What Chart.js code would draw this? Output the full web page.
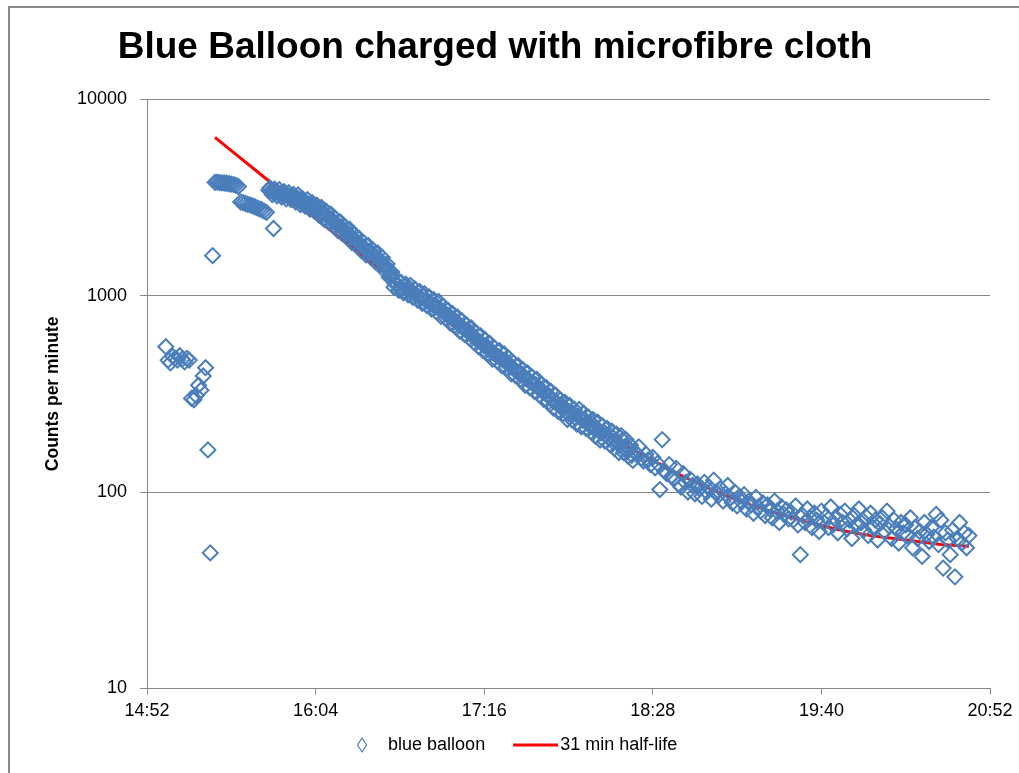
<!DOCTYPE html>
<html>
<head>
<meta charset="utf-8">
<title>Blue Balloon charged with microfibre cloth</title>
<script src="https://cdn.jsdelivr.net/npm/chart.js@4.4.0/dist/chart.umd.min.js"></script>
<style>
  html, body { margin: 0; padding: 0; background: #fff; overflow: hidden; }
  #wrap { position: relative; width: 1019px; height: 773px; overflow: hidden; }
  #frame { position: absolute; left: 8px; top: 6px; width: 1100px; height: 900px; border: 2px solid #8a8a8a; pointer-events: none; }
</style>
</head>
<body>
<div id="wrap">
  <canvas id="balloonChart" width="1019" height="773"></canvas>
  <div id="frame"></div>
</div>
<script>
const chartTitle = "Blue Balloon charged with microfibre cloth";
const yAxisTitle = "Counts per minute";
const xTickLabels = ["14:52", "16:04", "17:16", "18:28", "19:40", "20:52"];
const yTickValues = [10, 100, 1000, 10000];

// measurement times, minutes after midnight
const balloonMinutes = [
  900, 901, 902, 903, 904, 905, 906, 907, 908, 909,
  910, 911, 912, 913, 914, 915, 916, 917, 918, 919,
  920, 921, 922, 923, 924, 925, 926, 927, 928, 929, 930, 931,
  932, 933, 934, 935, 936, 937, 938, 939, 940, 941, 942, 943,
  946,
  944, 945, 946, 947, 948, 949, 950, 951, 952, 953,
  954, 955, 956, 957, 958, 959, 960, 961, 962, 963,
  964, 965, 966, 967, 968, 969, 970, 971, 972, 973,
  974, 975, 976, 977, 978, 979, 980, 981, 982, 983,
  984, 985, 986, 987, 988, 989, 990, 991, 992, 993,
  994, 995, 996, 997, 998, 999, 1000, 1001, 1002, 1003,
  1004, 1005, 1006, 1007, 1008, 1009, 1010, 1011, 1012, 1013,
  1014, 1015, 1016, 1017, 1018, 1019, 1020, 1021, 1022, 1023,
  1024, 1025, 1026, 1027, 1028, 1029, 1030, 1031, 1032, 1033,
  1034, 1035, 1036, 1037, 1038, 1039, 1040, 1041, 1042, 1043,
  1044, 1045, 1046, 1047, 1048, 1049, 1050, 1051, 1052, 1053,
  1054, 1055, 1056, 1057, 1058, 1059, 1060, 1061, 1062, 1063,
  1064, 1065, 1066, 1067, 1068, 1069, 1070, 1071, 1072, 1073,
  1074, 1075, 1076, 1077, 1078, 1079, 1080, 1081, 1082, 1083,
  1084, 1085, 1086, 1087, 1088, 1089, 1090, 1091, 1092, 1093,
  1094, 1095, 1096, 1097, 1098, 1099, 1100, 1101, 1102, 1103,
  1104, 1105, 1106, 1107, 1108, 1109, 1110, 1111, 1112, 1113,
  1114, 1115, 1116, 1117, 1118, 1119, 1120, 1121, 1122, 1123,
  1124, 1125, 1126, 1127, 1128, 1129, 1130, 1131, 1132, 1133,
  1134, 1135, 1136, 1137, 1138, 1139, 1140, 1141, 1142, 1143,
  1144, 1145, 1146, 1147, 1148, 1149, 1150, 1151, 1152, 1153,
  1154, 1155, 1156, 1157, 1158, 1159, 1160, 1161, 1162, 1163,
  1164, 1165, 1166, 1167, 1168, 1169, 1170, 1171, 1172, 1173,
  1174, 1175, 1176, 1177, 1178, 1179, 1180, 1181, 1182, 1183,
  1184, 1185, 1186, 1187, 1188, 1189, 1190, 1191, 1192, 1193,
  1194, 1195, 1196, 1197, 1198, 1199, 1200, 1201, 1202, 1203,
  1204, 1205, 1206, 1207, 1208, 1209, 1210, 1211, 1212, 1213,
  1214, 1215, 1216, 1217, 1218, 1219, 1220, 1221, 1222, 1223,
  1224, 1225, 1226, 1227, 1228, 1229, 1230, 1231, 1232, 1233,
  1234, 1235, 1236, 1237, 1238, 1239, 1240, 1241, 1242, 1243
];

const balloonCounts = [
  550, 470, 455, 490, 480, 470, 495, 475, 460, 480,
  470, 300, 295, 310, 350, 330, 390, 430, 164, 49,
  1600, 3780, 3790, 3770, 3760, 3750, 3740, 3720, 3700, 3680, 3650, 3600,
  3000, 2980, 2950, 2920, 2900, 2870, 2840, 2800, 2770, 2740, 2700, 2660,
  2200,
  3450, 3420, 3400, 3370, 3350, 3320, 3310, 3260, 3230, 3200,
  3170, 3140, 3110, 3100, 3040, 3000, 2960, 2920, 2900, 2830,
  2780, 2730, 2680, 2630, 2600, 2530, 2480, 2430, 2380, 2320,
  2260, 2230, 2160, 2110, 2060, 2010, 1960, 1920, 1870, 1840,
  1780, 1740, 1700, 1660, 1650, 1600, 1570, 1540, 1500, 1450,
  1400, 1340, 1270, 1200, 1150, 1140, 1100, 1090, 1110, 1070,
  1060, 1050, 1030, 1010, 990, 975, 990, 945, 930, 915,
  900, 885, 880, 850, 835, 820, 800, 785, 770, 760,
  735, 720, 700, 685, 670, 670, 640, 625, 610, 595,
  585, 570, 555, 555, 535, 520, 510, 500, 490, 480,
  470, 470, 450, 440, 430, 420, 410, 402, 400, 386,
  378, 370, 362, 355, 352, 340, 333, 326, 319, 312,
  308, 296, 288, 285, 276, 268, 272, 258, 250, 256,
  250, 238, 244, 240, 232, 234, 224, 218, 224, 210,
  212, 205, 200, 203, 194, 190, 194, 180, 184, 178,
  172, 184, 166, 170, 164, 154, 162, 156, 170, 149,
  144, 156, 146, 138, 150, 133, 140, 103, 185, 128,
  124, 138, 120, 118, 132, 110, 106, 124, 112, 100,
  116, 108, 98, 110, 104, 95, 112, 100, 106, 92,
  115, 100, 96, 104, 90, 98, 108, 93, 88, 100,
  85, 95, 89, 97, 82, 90, 86, 78, 94, 84,
  80, 88, 76, 86, 82, 74, 90, 80, 70, 84,
  77, 81, 73, 79, 72, 85, 68, 48, 76, 70,
  82, 74, 66, 78, 72, 63, 80, 70, 75, 66,
  84, 68, 73, 62, 77, 70, 80, 65, 72, 58,
  76, 68, 82, 70, 64, 75, 60, 78, 66, 72,
  57, 69, 74, 63, 80, 67, 58, 72, 65, 55,
  70, 62, 68, 60, 74, 52, 66, 58, 63, 47,
  70, 61, 56, 66, 59, 77, 54, 72, 41, 62,
  57, 48, 64, 37, 58, 70, 55, 62, 52, 60
];

// extra half-minute readings where the band is dense
const balloonHalfMinutes = [
  944.5, 945.5, 946.5, 947.5, 948.5, 949.5, 950.5, 951.5, 952.5, 953.5,
  954.5, 955.5, 956.5, 957.5, 958.5, 959.5, 960.5, 961.5, 962.5, 963.5,
  964.5, 965.5, 966.5, 967.5, 968.5, 969.5, 970.5, 971.5, 972.5, 973.5,
  974.5, 975.5, 976.5, 977.5, 978.5, 979.5, 980.5, 981.5, 982.5, 983.5,
  984.5, 985.5, 986.5, 987.5, 988.5, 989.5, 990.5, 991.5, 992.5, 993.5,
  994.5, 995.5, 996.5, 997.5, 998.5, 999.5, 1000.5, 1001.5, 1002.5, 1003.5,
  1004.5, 1005.5, 1006.5, 1007.5, 1008.5, 1009.5, 1010.5, 1011.5, 1012.5, 1013.5,
  1014.5, 1015.5, 1016.5, 1017.5, 1018.5, 1019.5, 1020.5, 1021.5, 1022.5, 1023.5,
  1024.5, 1025.5, 1026.5, 1027.5, 1028.5, 1029.5, 1030.5, 1031.5, 1032.5, 1033.5,
  1034.5, 1035.5, 1036.5, 1037.5, 1038.5, 1039.5, 1040.5, 1041.5, 1042.5, 1043.5,
  1044.5, 1045.5, 1046.5, 1047.5, 1048.5, 1049.5, 1050.5, 1051.5, 1052.5, 1053.5,
  1054.5, 1055.5, 1056.5, 1057.5, 1058.5, 1059.5, 1060.5, 1061.5, 1062.5, 1063.5,
  1064.5, 1065.5, 1066.5, 1067.5, 1068.5, 1069.5, 1070.5, 1071.5, 1072.5, 1073.5,
  1074.5, 1075.5, 1076.5, 1077.5, 1078.5, 1079.5, 1080.5, 1081.5, 1082.5, 1083.5,
  1084.5, 1085.5, 1086.5, 1087.5, 1088.5, 1089.5, 1090.5, 1091.5, 1092.5, 1093.5,
  1094.5, 1095.5, 1096.5, 1097.5, 1098.5, 1099.5
];

const balloonHalfCounts = [
  3540, 3270, 3490, 3225, 3470, 3180, 3385, 3115, 3345, 3090,
  3280, 3000, 3260, 2915, 3110, 2860, 3085, 2765, 2980, 2695,
  2890, 2570, 2815, 2460, 2695, 2380, 2600, 2285, 2470, 2150,
  2380, 2065, 2240, 1980, 2180, 1865, 2035, 1800, 1965, 1700,
  1865, 1615, 1800, 1570, 1705, 1490, 1650, 1445, 1565, 1340,
  1450, 1240, 1320, 1105, 1215, 1065, 1170, 1035, 1145, 1010,
  1130, 980, 1080, 950, 1050, 915, 1025, 890, 985, 855,
  955, 830, 935, 785, 880, 770, 845, 725, 810, 705,
  780, 660, 745, 635, 710, 610, 685, 580, 645, 550,
  625, 525, 595, 510, 570, 475, 540, 465, 525, 440,
  505, 430, 480, 400, 455, 390, 440, 375, 420, 350,
  405, 340, 385, 325, 375, 312, 352, 296, 340, 288,
  326, 268, 312, 258, 294, 251, 286, 234, 276, 233,
  264, 222, 264, 215, 252, 211, 241, 203, 234, 192,
  227, 184, 217, 182, 211, 175, 204, 167, 197, 159,
  194, 159, 185, 152, 173, 145
];

// red "31 min half-life" curve
const halfLifeMinutes = [921, 931, 941, 951, 961, 971, 981, 991, 1001, 1011, 1021, 1031, 1041, 1051, 1061, 1071, 1081,
  1091, 1101, 1111, 1121, 1131, 1141, 1151, 1161, 1171, 1181, 1191, 1201, 1211, 1221, 1231, 1243];
const halfLifeCounts = [6400, 5130, 4110, 3290, 2640, 2120, 1710, 1375, 1110, 896, 726, 590, 482, 395, 325, 270, 225,
  190, 161, 139, 120, 106, 94, 85, 78, 72, 67, 63, 60, 58, 56, 54, 53];

const fontFamily = '"Liberation Sans", Arial, sans-serif';
const gridGrey = "#868686";
const balloonBlue = "#4a7ebb";
const lineRed = "#ff0000";

function toMinutes(label) {
  const [h, m] = label.split(":").map(Number);
  return h * 60 + m;
}

function formatClock(v) {
  const h = Math.floor(v / 60);
  const m = Math.round(v % 60);
  return h + ":" + String(m).padStart(2, "0");
}

const xTickMinutes = xTickLabels.map(toMinutes);

const balloonPoints = balloonMinutes.map((t, i) => ({ x: t, y: balloonCounts[i] }))
  .concat(balloonHalfMinutes.map((t, i) => ({ x: t, y: balloonHalfCounts[i] })));

// legend under the axis, drawn by hand so the line sample can be long
const bottomLegend = {
  id: "bottomLegend",
  afterDraw(chart) {
    const ctx = chart.ctx;
    const y = chart.height - 28;
    let x = chart.chartArea.left + 215;
    ctx.save();
    ctx.font = "18px " + fontFamily;
    ctx.textBaseline = "middle";
    ctx.fillStyle = "#000";

    ctx.strokeStyle = balloonBlue;
    ctx.lineWidth = 1.2;
    ctx.beginPath();
    ctx.moveTo(x, y - 7);
    ctx.lineTo(x + 4.5, y);
    ctx.lineTo(x, y + 7);
    ctx.lineTo(x - 4.5, y);
    ctx.closePath();
    ctx.stroke();

    x += 26;
    ctx.fillText(chart.data.datasets[0].label, x, y);
    x += ctx.measureText(chart.data.datasets[0].label).width + 28;

    ctx.strokeStyle = lineRed;
    ctx.lineWidth = 3;
    ctx.beginPath();
    ctx.moveTo(x, y);
    ctx.lineTo(x + 45, y);
    ctx.stroke();

    x += 47;
    ctx.fillText(chart.data.datasets[1].label, x, y);
    ctx.restore();
  }
};

Chart.defaults.font.family = fontFamily;
Chart.defaults.color = "#000";

const ctx = document.getElementById("balloonChart").getContext("2d");

new Chart(ctx, {
  type: "scatter",
  data: {
    datasets: [
      {
        label: "blue balloon",
        data: balloonPoints,
        pointStyle: "rectRot",
        pointRadius: 7.5,
        pointBorderWidth: 2,
        borderColor: balloonBlue,
        backgroundColor: "rgba(0,0,0,0)",
        showLine: false,
        order: 0
      },
      {
        label: "31 min half-life",
        data: halfLifeMinutes.map((t, i) => ({ x: t, y: halfLifeCounts[i] })),
        showLine: true,
        borderColor: lineRed,
        backgroundColor: lineRed,
        borderWidth: 3,
        pointRadius: 0,
        tension: 0,
        order: 1
      }
    ]
  },
  options: {
    responsive: false,
    animation: false,
    devicePixelRatio: 1,
    layout: { padding: { top: 10, left: 0, right: 29, bottom: 45 } },
    plugins: {
      legend: { display: false },
      tooltip: { enabled: false },
      title: {
        display: true,
        text: chartTitle,
        color: "#000",
        font: { size: 37, weight: "bold" },
        padding: { top: 16, bottom: 29 }
      }
    },
    scales: {
      x: {
        type: "linear",
        min: xTickMinutes[0],
        max: xTickMinutes[xTickMinutes.length - 1],
        afterBuildTicks: scale => { scale.ticks = xTickMinutes.map(v => ({ value: v })); },
        ticks: { callback: formatClock, font: { size: 18 }, padding: 6, maxRotation: 0, autoSkip: false, color: "#000" },
        grid: { drawOnChartArea: false, drawTicks: true, tickLength: 6, color: gridGrey },
        border: { color: gridGrey, width: 1 }
      },
      y: {
        type: "logarithmic",
        min: yTickValues[0],
        max: yTickValues[yTickValues.length - 1],
        afterBuildTicks: scale => { scale.ticks = yTickValues.map(v => ({ value: v })); },
        ticks: { callback: v => String(v), font: { size: 18 }, padding: 13, color: "#000" },
        grid: { color: gridGrey, tickLength: 7 },
        border: { color: gridGrey, width: 1 },
        title: {
          display: true,
          text: yAxisTitle,
          color: "#000",
          font: { size: 17.5, weight: "bold" },
          padding: { top: 43, bottom: 0 }
        }
      }
    }
  },
  plugins: [bottomLegend]
});
</script>
</body>
</html>
